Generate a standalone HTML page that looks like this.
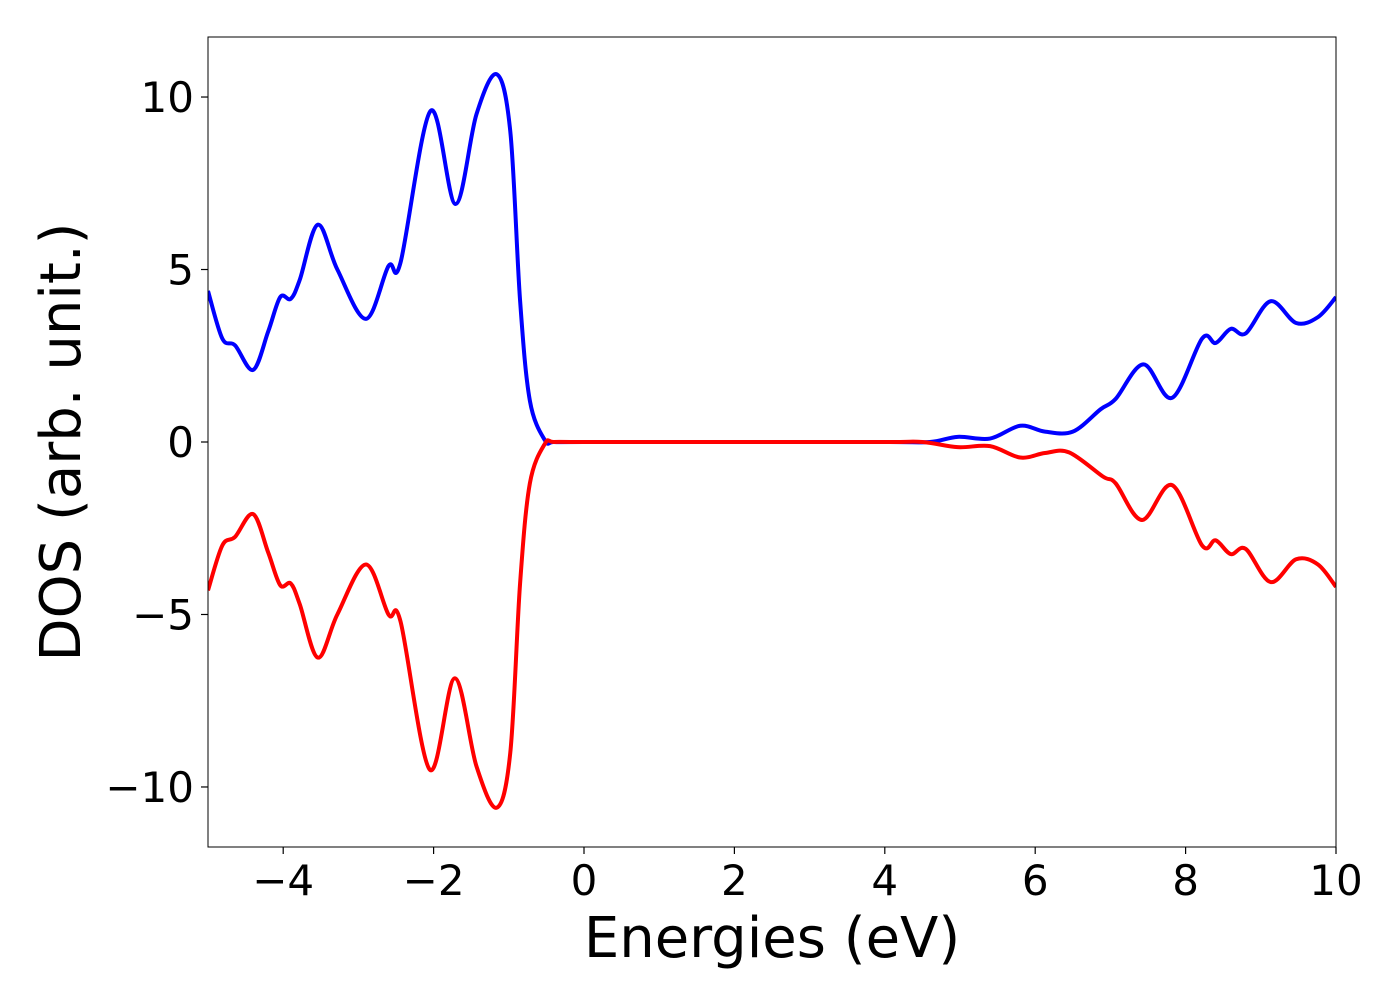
<!DOCTYPE html>
<html><head><meta charset="utf-8"><style>
html,body{margin:0;padding:0;background:#fff;}
svg text{font-family:"DejaVu Sans","Liberation Sans",sans-serif;fill:#000;}
</style></head><body>
<svg id="chart" width="1400" height="1000" viewBox="0 0 1400 1000" xmlns="http://www.w3.org/2000/svg">
<g id="plot"></g>
<g id="axes"></g>
</svg>
<script>
const xTicks=[-4,-2,0,2,4,6,8,10];
const yTicks=[-10,-5,0,5,10];
const upE=[-5,-4.81,-4.64,-4.4,-4.2,-4.04,-3.9,-3.78,-3.54,-3.28,-2.9,-2.6,-2.44,-2.04,-1.71,-1.43,-1.16,-0.98,-0.85,-0.72,-0.52,-0.4,0,2,4,4.6,4.97,5.4,5.8,6.13,6.5,6.87,7.07,7.44,7.82,8.22,8.4,8.6,8.8,9.13,9.47,9.76,10];
const upV=[4.38,3.0,2.8,2.09,3.2,4.2,4.15,4.7,6.3,5.0,3.57,5.1,5.2,9.6,6.9,9.5,10.66,9.0,4.1,1.2,0.05,0,0,0,0,0,0.15,0.1,0.47,0.3,0.3,0.95,1.25,2.25,1.28,3.0,2.87,3.28,3.15,4.08,3.45,3.62,4.2];
const dnE=[-5,-4.81,-4.64,-4.4,-4.2,-4.04,-3.9,-3.78,-3.54,-3.28,-2.9,-2.6,-2.44,-2.05,-1.72,-1.43,-1.16,-0.98,-0.85,-0.72,-0.52,-0.4,0,2,4,4.5,4.97,5.4,5.8,6.13,6.45,6.9,7.07,7.42,7.82,8.22,8.4,8.6,8.8,9.13,9.47,9.76,10];
const dnV=[-4.3,-3.0,-2.75,-2.09,-3.2,-4.15,-4.1,-4.7,-6.25,-5.0,-3.55,-5.0,-5.2,-9.5,-6.85,-9.4,-10.6,-9.0,-4.1,-1.2,-0.05,0,0,0,0,0,-0.15,-0.12,-0.45,-0.32,-0.3,-1.0,-1.2,-2.26,-1.25,-3.0,-2.85,-3.25,-3.1,-4.06,-3.4,-3.55,-4.2];
const L=208,R=1336,T=37,B=847,xMin=-5,xMax=10,yMin=-11.74,yMax=11.74;
const sx=v=>L+(v-xMin)/(xMax-xMin)*(R-L);
const sy=v=>B-(v-yMin)/(yMax-yMin)*(B-T);
const NS="http://www.w3.org/2000/svg";
function mk(tag,at,parent){const e=document.createElementNS(NS,tag);for(const k in at)e.setAttribute(k,at[k]);parent.appendChild(e);return e;}
function pathFor(E,V){
  const p=E.map((e,i)=>[sx(e),sy(V[i])]);
  let d="M"+p[0][0]+","+p[0][1];
  for(let i=0;i<p.length-1;i++){
    const p0=p[Math.max(0,i-1)],p1=p[i],p2=p[i+1],p3=p[Math.min(p.length-1,i+2)];
    const c1=[p1[0]+(p2[0]-p0[0])/6,p1[1]+(p2[1]-p0[1])/6];
    const c2=[p2[0]-(p3[0]-p1[0])/6,p2[1]-(p3[1]-p1[1])/6];
    d+=" C"+c1[0]+","+c1[1]+" "+c2[0]+","+c2[1]+" "+p2[0]+","+p2[1];
  }
  return d;
}
const plot=document.getElementById('plot'),axes=document.getElementById('axes');
const clip=mk('clipPath',{id:'cp'},plot);mk('rect',{x:L,y:T,width:R-L,height:B-T},clip);
const up=mk('path',{d:pathFor(upE,upV),fill:'none',stroke:'#0000ff','stroke-width':4,'clip-path':'url(#cp)'},plot);


const dn=mk('path',{d:pathFor(dnE,dnV),fill:'none',stroke:'#ff0000','stroke-width':4,'clip-path':'url(#cp)'},plot);


const fr=mk('rect',{x:L,y:T,width:R-L,height:B-T,fill:'none',stroke:'#000','stroke-width':1},axes);


xTicks.forEach(t=>{const x=sx(t);
  mk('line',{x1:x,y1:B,x2:x,y2:B+7,stroke:'#000','stroke-width':1.2},axes);
  const tx=mk('text',{x:x,y:B+48,'font-size':42,'text-anchor':'middle'},axes);
  tx.textContent=(t<0?'\u2212':'')+Math.abs(t);
  
  
});
yTicks.forEach(t=>{const y=sy(t);
  mk('line',{x1:L-7,y1:y,x2:L,y2:y,stroke:'#000','stroke-width':1.2},axes);
  const tx=mk('text',{x:L-14,y:y+15,'font-size':42,'text-anchor':'end'},axes);
  tx.textContent=(t<0?'\u2212':'')+Math.abs(t);
  
  
});
const xl=mk('text',{x:772,y:957,'font-size':56,'text-anchor':'middle'},axes);
xl.textContent='Energies (eV)';


const yl=mk('text',{x:0,y:0,'font-size':56,'text-anchor':'middle',transform:'translate(80,442) rotate(-90)'},axes);
yl.textContent='DOS (arb. unit.)';


</script>
</body></html>
